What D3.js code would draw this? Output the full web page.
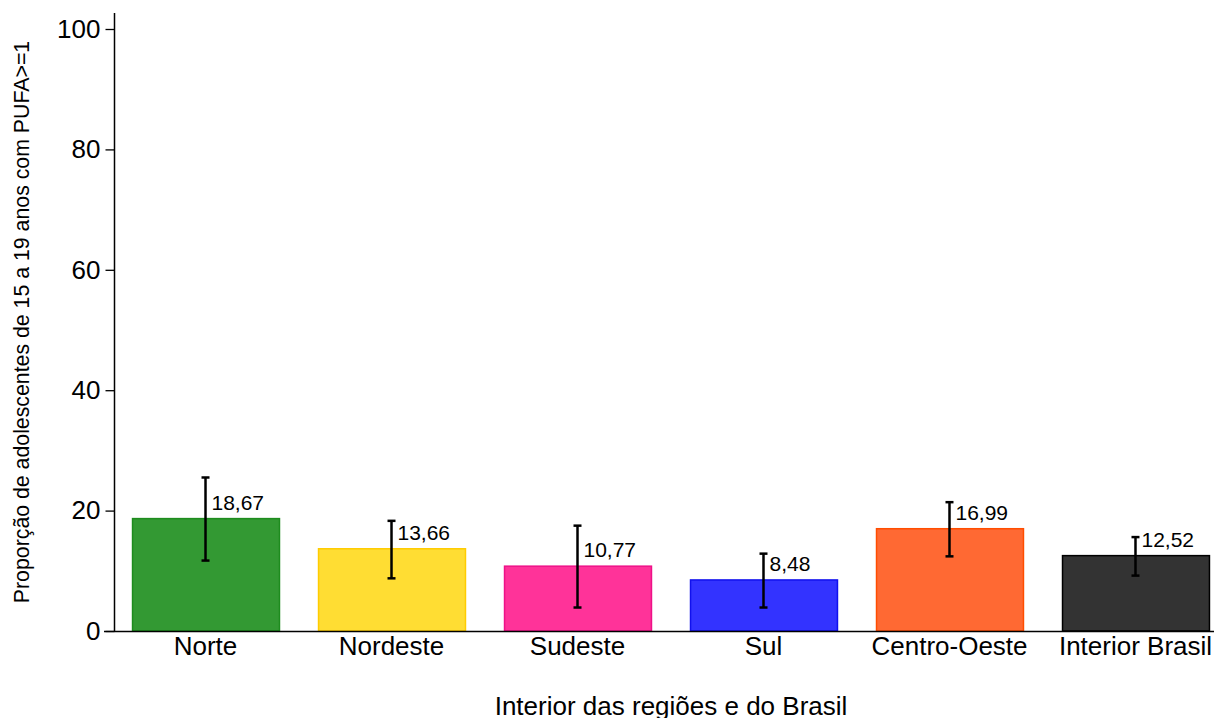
<!DOCTYPE html>
<html>
<head>
<meta charset="utf-8">
<script src="https://cdn.jsdelivr.net/npm/d3@7"></script>
<style>
  body { margin: 0; background: #fff; }
  svg { display: block; font-family: "Liberation Sans", Arial, sans-serif; }
</style>
</head>
<body>
<svg id="chart" width="1214" height="718"></svg>
<script>
const categories = ["Norte", "Nordeste", "Sudeste", "Sul", "Centro-Oeste", "Interior Brasil"];
const values = [18.67, 13.66, 10.77, 8.48, 16.99, 12.52];
const lower = [11.7, 8.75, 3.9, 3.9, 12.4, 9.2];
const upper = [25.5, 18.3, 17.5, 12.85, 21.4, 15.6];
const labels = ["18,67", "13,66", "10,77", "8,48", "16,99", "12,52"];
const fills = ["#339933", "#FFDD33", "#FF3399", "#3333FF", "#FF6933", "#333333"];
const strokes = ["#1E8C1E", "#FFCC00", "#EE1188", "#1111EE", "#FF4D00", "#000000"];
const yTicks = [0, 20, 40, 60, 80, 100];

const svg = d3.select("#chart");
const y = d3.scaleLinear().domain([0, 100]).range([631, 29]);
const x = d3.scaleBand().domain(categories).range([114, 1227]).paddingInner(0.21).paddingOuter(0.097);

// bars
svg.selectAll("rect.bar").data(categories).join("rect")
  .attr("class", "bar")
  .attr("x", d => x(d) + 0.5)
  .attr("y", (d, i) => y(values[i]))
  .attr("width", x.bandwidth())
  .attr("height", (d, i) => y(0) - y(values[i]))
  .attr("fill", (d, i) => fills[i])
  .attr("stroke", (d, i) => strokes[i])
  .attr("stroke-width", 1.5);

// error bars
const eb = svg.selectAll("g.err").data(categories).join("g").attr("class", "err")
  .attr("stroke", "#000").attr("stroke-width", 2.5);
eb.append("line")
  .attr("x1", d => x(d) + x.bandwidth() / 2).attr("x2", d => x(d) + x.bandwidth() / 2)
  .attr("y1", (d, i) => y(lower[i])).attr("y2", (d, i) => y(upper[i]));
eb.append("line")
  .attr("x1", d => x(d) + x.bandwidth() / 2 - 4).attr("x2", d => x(d) + x.bandwidth() / 2 + 4)
  .attr("y1", (d, i) => y(lower[i])).attr("y2", (d, i) => y(lower[i]));
eb.append("line")
  .attr("x1", d => x(d) + x.bandwidth() / 2 - 4).attr("x2", d => x(d) + x.bandwidth() / 2 + 4)
  .attr("y1", (d, i) => y(upper[i])).attr("y2", (d, i) => y(upper[i]));

// value labels
svg.selectAll("text.val").data(categories).join("text")
  .attr("class", "val")
  .attr("x", d => x(d) + x.bandwidth() / 2 + 6)
  .attr("y", (d, i) => y(values[i]) - 9)
  .attr("font-size", 21)
  .attr("fill", "#000")
  .text((d, i) => labels[i]);

// y axis
const yAxis = d3.axisLeft(y).tickValues(yTicks).tickSize(9).tickPadding(5).tickFormat(d3.format("d"));
const gy = svg.append("g").attr("transform", "translate(114.5,0)").call(yAxis);
gy.select(".domain").remove();
gy.append("line").attr("x1", 0).attr("x2", 0).attr("y1", 13).attr("y2", 631).attr("stroke", "#000").attr("stroke-width", 1.5);
gy.selectAll(".tick line").attr("stroke", "#000").attr("stroke-width", 1.3);
gy.selectAll(".tick text").attr("font-size", 26).attr("fill", "#000").attr("font-family", "Liberation Sans, Arial, sans-serif");

// x axis
const xAxis = d3.axisBottom(x).tickSize(0).tickPadding(5);
const gx = svg.append("g").attr("transform", "translate(0,631.5)").call(xAxis);
gx.select(".domain").remove();
gx.append("line").attr("x1", 104).attr("x2", 1214).attr("y1", 0).attr("y2", 0).attr("stroke", "#000").attr("stroke-width", 1.5);
gx.selectAll(".tick text").attr("font-size", 26).attr("fill", "#000").attr("dy", "0.71em").attr("font-family", "Liberation Sans, Arial, sans-serif");

// axis titles
svg.append("text")
  .attr("x", 671).attr("y", 715)
  .attr("text-anchor", "middle")
  .attr("font-size", 26)
  .text("Interior das regiões e do Brasil");

svg.append("text")
  .attr("transform", "translate(29,322) rotate(-90)")
  .attr("text-anchor", "middle")
  .attr("font-size", 21.3)
  .text("Proporção de adolescentes de 15 a 19 anos com PUFA>=1");
</script>
</body>
</html>
